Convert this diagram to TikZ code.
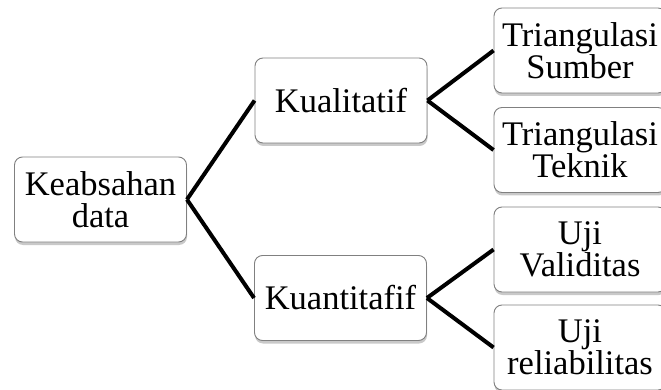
\documentclass[tikz,border=0pt]{standalone}
\usepackage{fontspec}
\setmainfont{Liberation Serif}
\usetikzlibrary{shadows}
\begin{document}
\begin{tikzpicture}[x=1pt,y=-1pt,
  box/.style={draw=black!50, line width=0.9pt, fill=white, rounded corners=8pt,
    minimum width=172pt, minimum height=85pt, align=center, inner sep=0pt,
    font=\fontsize{34.5}{32}\selectfont,
    drop shadow={shadow xshift=0.5pt, shadow yshift=-3pt, opacity=0.35, fill=black!60}},
  link/.style={line width=4pt, black}]
\clip (0,0) rectangle (661,390);
\fill[white] (0,0) rectangle (661,390);
\node[box] (root) at (100.5,199.5) {Keabsahan\\data};
\node[box] (kual) at (341,100.5) {Kualitatif};
\node[box] (kuan) at (340.5,298) {Kuantitafif};
\node[box] (ts) at (580,50.5) {Triangulasi\\Sumber};
\node[box] (tt) at (580,150) {Triangulasi\\Teknik};
\node[box] (uv) at (580,249.5) {Uji\\Validitas};
\node[box] (ur) at (580,347.5) {Uji\\reliabilitas};
\draw[link] (root.east) -- (kual.west);
\draw[link] (root.east) -- (kuan.west);
\draw[link] (kual.east) -- (ts.west);
\draw[link] (kual.east) -- (tt.west);
\draw[link] (kuan.east) -- (uv.west);
\draw[link] (kuan.east) -- (ur.west);
\end{tikzpicture}
\end{document}
